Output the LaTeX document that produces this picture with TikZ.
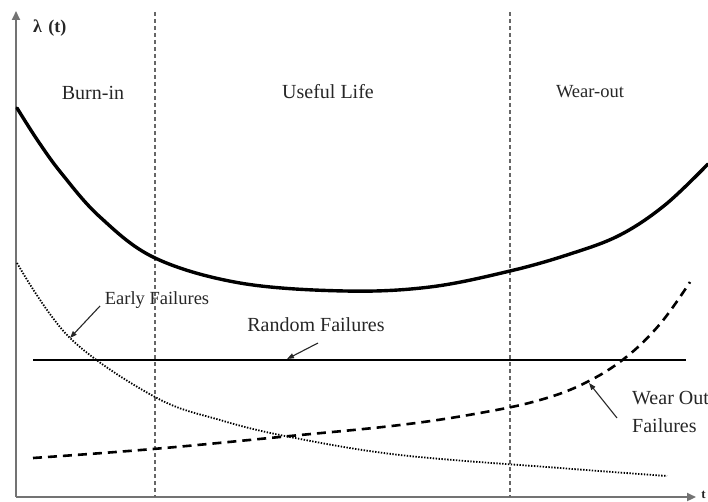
\documentclass[tikz,border=0pt]{standalone}
\usepackage{fontspec}
\setmainfont{Liberation Serif}
\usetikzlibrary{arrows.meta}
\begin{document}
\begin{tikzpicture}[x=1pt,y=-1pt,
  axis/.style={draw=black!55,line width=2.2pt,-{Triangle[length=9pt,width=8pt]},shorten >=-1pt},
  divider/.style={draw=black!60,line width=1.4pt,dash pattern=on 4pt off 3pt},
  lbl/.style={inner sep=0pt,text=black!85},
  pointer/.style={draw=black!85,line width=1.1pt,-{Triangle[length=7pt,width=5pt]}},
  bathtub/.style={line width=3.4pt,line cap=round},
  earlyc/.style={line width=1.8pt,dash pattern=on 1.4pt off 1.5pt},
  wearc/.style={line width=2.6pt,dash pattern=on 9pt off 6pt},
  randc/.style={line width=2.4pt}]
\useasboundingbox (0,0) rectangle (708,502);

% axes
\coordinate (o) at (16,497);
\coordinate (ytop) at (16,12);
\coordinate (xend) at (695,497);
\draw[axis] (o) -- (ytop);
\draw[axis] (o) -- (xend);
\node[lbl,anchor=west,font=\bfseries\fontsize{18}{20}\selectfont] (ylab) at (33,28) {λ\hspace{0.35em}(t)};
\node[lbl,anchor=east,font=\bfseries\fontsize{13}{15}\selectfont] (xlab) at (706,495) {t};

% phase dividers
\coordinate (d1t) at (155,12);
\coordinate (d1b) at (155,497);
\coordinate (d2t) at (510,12);
\coordinate (d2b) at (510,497);
\draw[divider] (d1t) -- (d1b);
\draw[divider] (d2t) -- (d2b);

% phase labels
\node[lbl,font=\fontsize{20}{24}\selectfont] (burn) at (93,93) {Burn-in};
\node[lbl,font=\fontsize{20}{24}\selectfont] (useful) at (328,92) {Useful Life};
\node[lbl,font=\fontsize{18.5}{22}\selectfont] (wear) at (590,92) {Wear-out};

% overall hazard rate
\draw[bathtub] plot[smooth,tension=0.6] coordinates {
  (17,108) (38,141) (62,174) (100,217) (155,258) (240,283) (345,291)
  (430,287) (510,271) (570,254) (620,235) (665,205) (708,164)};

% early failures
\draw[earlyc] plot[smooth,tension=0.6] coordinates {
  (17,263) (70,338) (155,397) (220,420) (290,437) (400,455) (560,468) (667,476)};

% random failures
\coordinate (r0) at (33,360);
\coordinate (r1) at (686,360);
\draw[randc] (r0) -- (r1);

% wear-out failures
\draw[wearc] plot[smooth,tension=0.65] coordinates {
  (33,458) (153,449) (290,436) (400,425) (480,413) (540,400) (585,383)
  (625,358) (660,324) (690,282)};

% curve labels and pointers
\node[lbl,font=\fontsize{18.5}{22}\selectfont] (early) at (157,300) {Early Failures};
\coordinate (earlyhit) at (70,338);
\draw[pointer] (100,306) -- (earlyhit);

\node[lbl,font=\fontsize{20}{24}\selectfont] (random) at (316,325) {Random Failures};
\coordinate (randhit) at (287,359);
\draw[pointer] (318,343) -- (randhit);

\node[lbl,anchor=north west,align=left,font=\fontsize{20}{28}\selectfont] (wearlab) at (632,391) {Wear Out\\Failures};
\coordinate (wearhit) at (589,383);
\draw[pointer] (617,418) -- (wearhit);
\end{tikzpicture}
\end{document}
